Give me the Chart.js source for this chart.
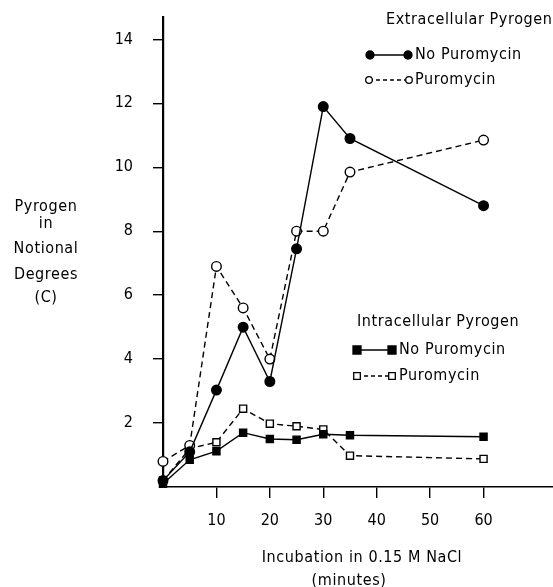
<!DOCTYPE html>
<html>
<head>
<meta charset="utf-8">
<script src="https://cdn.jsdelivr.net/npm/chart.js@4"></script>
<style>
  html, body { margin:0; padding:0; background:#fff; }
  #wrap { position:relative; width:553px; height:587px; }
</style>
</head>
<body>
<div id="wrap"><canvas id="chart" width="553" height="587"></canvas></div>
<script>
// ---- 데이터 ----
const minutes = [0, 5, 10, 15, 20, 25, 30, 35, 60];
const extraNoPuro = [0.2, 1.1, 3.03, 5.0, 3.3, 7.45, 11.9, 10.9, 8.8];
const extraPuro   = [0.8, 1.3, 6.9, 5.6, 4.0, 8.0, 8.0, 9.85, 10.85];
const intraNoPuro = [0.1, 0.85, 1.12, 1.7, 1.5, 1.48, 1.65, 1.62, 1.57];
const intraPuro   = [0.2, 1.2, 1.4, 2.45, 1.98, 1.9, 1.8, 0.98, 0.88];
const xTicks = [10, 20, 30, 40, 50, 60];
const yTicks = [2, 4, 6, 8, 10, 12, 14];

const FONT = '"DejaVu Sans Condensed", "DejaVu Sans", sans-serif';
const toXY = ys => minutes.map((m, i) => ({x: m, y: ys[i]}));

// 데이터셋 스타일
const ds = (label, ys, style, filled, dashed) => ({
  label, data: toXY(ys),
  borderColor:'#000', borderWidth:1.4,
  borderDash: dashed ? [6,4] : [],
  pointStyle: style, pointRadius: style === 'rect' ? 5 : 4.8,
  pointBackgroundColor: filled ? '#000' : '#fff',
  pointBorderColor:'#000', pointBorderWidth:1.4,
  tension:0, clip:false
});

// ---- 글자 / 범례 플러그인 ----
const textPlugin = {
  id:'texts',
  afterDraw(chart){
    const c = chart.ctx;
    c.save();
    c.fillStyle = '#000';
    c.font = '16px ' + FONT;
    c.letterSpacing = '0.6px';
    c.textBaseline = 'middle';
    c.textAlign = 'center';
    // y축 제목
    [['Pyrogen',207],['in',224],['Notional',249],['Degrees',275],['(C)',298]]
      .forEach(([t,y]) => c.fillText(t, 46, y));
    // x축 제목
    c.fillText('Incubation in 0.15 M NaCl', 362, 558);
    c.fillText('(minutes)', 349, 581);

    c.textAlign = 'left';
    c.fillText('Extracellular Pyrogen', 386, 20);
    c.fillText('Intracellular Pyrogen', 357, 322);

    const entry = (x1, x2, y, style, filled, dashed, label, tx) => {
      c.beginPath();
      c.setLineDash(dashed ? [4,3] : []);
      c.lineWidth = 1.3; c.strokeStyle = '#000';
      c.moveTo(x1, y); c.lineTo(x2, y); c.stroke();
      c.setLineDash([]);
      [x1, x2].forEach(x => {
        c.beginPath();
        const r = filled ? 4 : 3.3;
        if (style === 'circle') c.arc(x, y, r, 0, Math.PI*2);
        else c.rect(x-r, y-r, 2*r, 2*r);
        c.fillStyle = filled ? '#000' : '#fff';
        c.fill(); c.stroke();
      });
      c.fillStyle = '#000';
      c.fillText(label, tx, y);
    };
    entry(370, 408, 55, 'circle', true, false, 'No Puromycin', 415);
    entry(369, 409, 80, 'circle', false, true, 'Puromycin', 415);
    entry(357, 392, 350, 'rect', true, false, 'No Puromycin', 399);
    entry(357, 392, 376, 'rect', false, true, 'Puromycin', 399);
    c.restore();
  }
};

new Chart(document.getElementById('chart').getContext('2d'), {
  type:'line',
  data:{ datasets:[
    ds('Extra No Puromycin', extraNoPuro, 'circle', true, false),
    ds('Extra Puromycin', extraPuro, 'circle', false, true),
    ds('Intra No Puromycin', intraNoPuro, 'rect', true, false),
    ds('Intra Puromycin', intraPuro, 'rect', false, true)
  ]},
  options:{
    responsive:false, animation:false,
    layout:{ autoPadding:false, padding:{ top:17, right:0, left:0, bottom:0 } },
    plugins:{ legend:{display:false}, tooltip:{enabled:false} },
    scales:{
      x:{
        type:'linear', min:0, max:73,
        afterBuildTicks: s => { s.ticks = xTicks.map(v => ({value:v})); },
        afterFit: s => { s.height = 100; s.paddingLeft = 0; s.paddingRight = 0; },
        ticks:{ color:'#000', font:{family:FONT, size:16}, padding:13, maxRotation:0 },
        grid:{ drawOnChartArea:false, tickLength:11, color:'#000', lineWidth:1.4 },
        border:{ color:'#000', width:1.6 }
      },
      y:{
        min:0, max:14.7,
        afterBuildTicks: s => { s.ticks = yTicks.map(v => ({value:v})); },
        afterFit: s => { s.width = 163; s.paddingTop = 0; s.paddingBottom = 0; },
        ticks:{ color:'#000', font:{family:FONT, size:16}, padding:20 },
        grid:{ drawOnChartArea:false, tickLength:10, color:'#000', lineWidth:1.4 },
        border:{ color:'#000', width:2.2 }
      }
    }
  },
  plugins:[textPlugin]
});
</script>
</body>
</html>
